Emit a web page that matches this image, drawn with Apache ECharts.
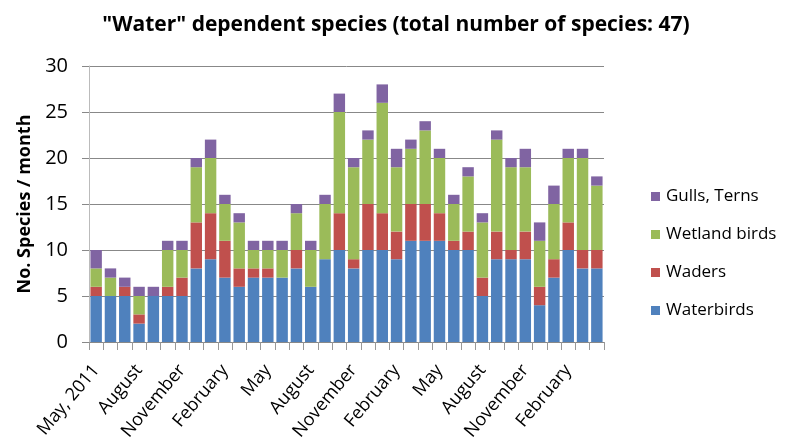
<!DOCTYPE html>
<html><head><meta charset="utf-8">
<script src="https://cdn.jsdelivr.net/npm/echarts@6/dist/echarts.min.js"></script>
<style>html,body{margin:0;padding:0;background:#fff}#c{width:795px;height:446px}</style>
</head><body><div id="c"></div>
<script>
const months = ["May, 2011","June","July","August","September","October","November","December","January","February","March","April",
  "May","June","July","August","September","October","November","December","January","February","March","April",
  "May","June","July","August","September","October","November","December","January","February","March","April"];
// segment values
const waterbirds = [5,5,5,2,5,5,5,8,9,7,6,7,7,7,8,6,9,10,8,10,10,9,11,11,11,10,10,5,9,9,9,4,7,10,8,8];
const waders     = [1,0,1,1,0,1,2,5,5,4,2,1,1,0,2,0,0,4,1,5,4,3,4,4,3,1,2,2,3,1,3,2,2,3,2,2];
const wetland    = [2,2,0,2,0,4,3,6,6,4,5,2,2,3,4,4,6,11,10,7,12,7,6,8,6,4,6,6,10,9,7,5,6,7,10,7];
const gulls      = [2,1,1,1,1,1,1,1,2,1,1,1,1,1,1,1,1,2,1,1,2,2,1,1,1,1,1,1,1,1,2,2,2,1,1,1];
const yTicks = [0,5,10,15,20,25,30];

const chart = echarts.init(document.getElementById('c'));
const font = 'Open Sans';
function s(name, data, color){
  return {name, type:'bar', stack:'all', data, barCategoryGap:'20%', itemStyle:{color}};
}
chart.setOption({
  animation:false,
  backgroundColor:'#fff',
  title:{text:'"Water" dependent species (total number of species: 47)', left:391, top:10, textAlign:'center',
    textStyle:{fontFamily:font, fontWeight:'bold', fontSize:21, color:'#000'}},
  legend:{orient:'vertical', left:646, top:183, itemGap:21, itemWidth:9, itemHeight:9, icon:'rect',
    data:['Gulls, Terns','Wetland birds','Waders','Waterbirds'],
    textStyle:{fontFamily:font, fontSize:17, color:'#000', padding:[0,0,0,1]}},
  grid:{left:89, right:191, top:66, bottom:104},
  xAxis:{type:'category', data:months, boundaryGap:true,
    axisLine:{lineStyle:{color:'#888'}},
    axisTick:{show:true, interval:0, length:8, lineStyle:{color:'#999'}},
    axisLabel:{interval:2, rotate:50, fontFamily:font, fontSize:18, color:'#000', margin:25}},
  yAxis:{type:'value', min:0, max:30, interval:5,
    name:'No. Species / month', nameLocation:'middle', nameGap:55, nameRotate:90,
    nameTextStyle:{fontFamily:font, fontWeight:'bold', fontSize:18, color:'#000'},
    axisLine:{show:true, lineStyle:{color:'#bbb'}},
    axisTick:{show:true, length:7, lineStyle:{color:'#888'}},
    axisLabel:{fontFamily:font, fontSize:20, color:'#000', margin:21,
      formatter:v=>yTicks.includes(v)?String(v):''},
    splitLine:{lineStyle:{color:'#888'}}},
  series:[
    s('Waterbirds', waterbirds, '#4F81BD'),
    s('Waders', waders, '#C0504D'),
    s('Wetland birds', wetland, '#9BBB59'),
    s('Gulls, Terns', gulls, '#8064A2')
  ]
});
</script></body></html>
